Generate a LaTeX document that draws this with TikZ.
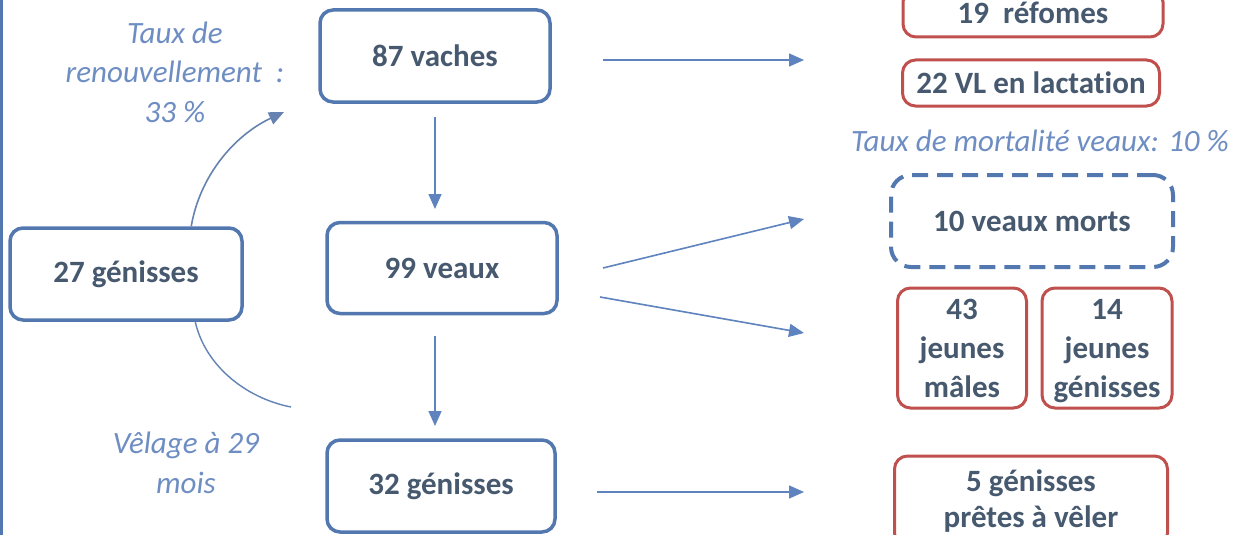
\documentclass[tikz,border=0pt]{standalone}
\usepackage{fontspec}
\setmainfont[Ligatures=NoCommon]{Carlito}
\usetikzlibrary{arrows.meta,calc}
\definecolor{txt}{HTML}{47596F}
\definecolor{bblue}{HTML}{5378AF}
\definecolor{bred}{HTML}{C0504D}
\definecolor{arrc}{HTML}{5E83BE}
\definecolor{lbl}{HTML}{6E8EC3}
\begin{document}
\begin{tikzpicture}[x=1pt,y=-1pt,
  box/.style={draw=bblue, line width=3.5pt, rounded corners=13pt, text=txt,
    font=\fontsize{31}{38.5}\selectfont\bfseries, align=center, inner sep=0pt},
  rbox/.style={box, draw=bred, line width=3pt},
  btext/.style={text=txt, font=\fontsize{31}{39}\selectfont\bfseries, align=center, inner sep=0pt},
  dbox/.style={box, dash pattern=on 16pt off 9pt, line width=4pt, rounded corners=20pt},
  lab/.style={text=lbl, font=\fontsize{31}{39.5}\selectfont\itshape, align=center, inner sep=0pt},
  conn/.style={draw=arrc, line width=1.6pt, -{Triangle[length=15pt,width=13pt]}},
  plain/.style={draw=arrc!85!gray, line width=1.4pt}]
\clip (0,0) rectangle (1240,535);
\fill[white] (0,0) rectangle (1240,535);
\draw[bblue, line width=3pt] (1.5,0) -- (1.5,535);

% main column
\node[box, minimum width=230pt, minimum height=92pt] (v87) at (435,56) {87 vaches};
\node[box, minimum width=230pt, minimum height=91pt] (v99) at (442,268) {99 veaux};
\node[box, minimum width=228pt, minimum height=92pt] (g32) at (441,486) {32 génisses};
\node[box, minimum width=232pt, minimum height=92pt] (g27) at (126,274) {27 génisses};

% right column
\node[rbox, minimum width=260pt, minimum height=48pt] (r19) at (1033,13) {19\ \ réfomes};
\node[rbox, minimum width=257pt, minimum height=46pt] (vl22) at (1031,83) {22 VL en lactation};
\node[lab] (tm) at (1040,141) {Taux de mortalité veaux: 10 \%};
\node[dbox, minimum width=282pt, minimum height=92pt] (morts) at (1032,221) {10 veaux morts};
\node[rbox, minimum width=129pt, minimum height=120pt] (m43) at (962,348) {};
\node[btext] (m43t) at ($(m43)+(0,3)$) {43\\jeunes\\mâles\vphantom{g}};
\node[rbox, minimum width=130pt, minimum height=120pt] (g14) at (1107,348) {};
\node[btext] (g14t) at ($(g14)+(0,3)$) {14\\jeunes\\génisses};
\node[rbox, font=\fontsize{31}{36}\selectfont\bfseries, minimum width=273pt, minimum height=90pt] (g5) at (1031,501) {5 génisses\\prêtes à vêler};

% labels
\node[lab] (tr) at (175,72) {Taux de\\renouvellement\ \ :\\33 \%};
\node[lab] (vel) at (186,463) {Vêlage à 29\\mois};

% connector end points
\coordinate (a1s) at (603,60);  \coordinate (a1e) at (804,60);
\coordinate (a2s) at (603,268); \coordinate (a2e) at (804,219);
\coordinate (a3s) at (600,297); \coordinate (a3e) at (804,333);
\coordinate (a4s) at (597,492); \coordinate (a4e) at (804,492);
\coordinate (d1s) at (435,117); \coordinate (d1e) at (435,209);
\coordinate (d2s) at (435,336); \coordinate (d2e) at (435,426);
\coordinate (cu) at (284,112);
\coordinate (cd) at (291,407);

\draw[conn] (a1s) -- (a1e);
\draw[conn] (a2s) -- (a2e);
\draw[conn] (a3s) -- (a3e);
\draw[conn] (a4s) -- (a4e);
\draw[conn] (d1s) -- (d1e);
\draw[conn] (d2s) -- (d2e);

\draw[conn, draw=arrc!80!gray] ($(g27.north west)+(183,0)$) .. controls (200,175) and (235,135) .. (cu);
\draw[plain] ($(g27.south west)+(187,0)$) .. controls (205,365) and (245,398) .. (cd);
\end{tikzpicture}
\end{document}
